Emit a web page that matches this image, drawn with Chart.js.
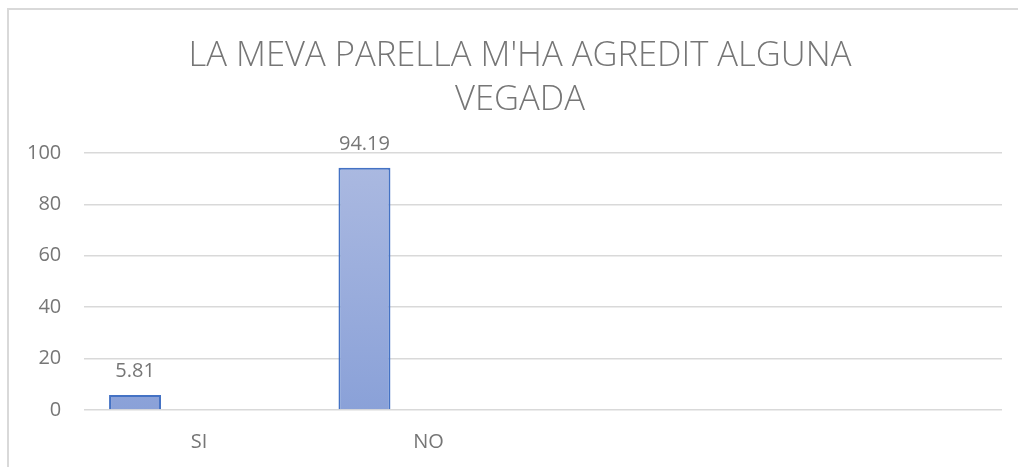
<!DOCTYPE html>
<html>
<head>
<meta charset="utf-8">
<script src="https://cdn.jsdelivr.net/npm/chart.js@4"></script>
<style>
  html, body { margin: 0; padding: 0; background: #fff; overflow: hidden; }
  #frame {
    position: absolute; left: 7px; top: 8px; width: 1040px; height: 480px;
    border-left: 2px solid #d9d9d9; border-top: 2px solid #d9d9d9;
  }
  #wrap { position: absolute; left: 0; top: 0; width: 1040px; height: 467px; }
</style>
</head>
<body>
<div id="frame"></div>
<div id="wrap"><canvas id="myChart"></canvas></div>
<script>
// values (percent)
const categories = ['SI', 'NO', '', ''];
const percentages = [5.81, 94.19];
const yTicks = [0, 20, 40, 60, 80, 100];
const titleLines = ["LA MEVA PARELLA M'HA AGREDIT ALGUNA", 'VEGADA'];

const textGrey = '#767676';
const font = 'Open Sans';

// bar value labels, drawn above each bar
const valueLabels = {
    id: 'valueLabels',
    afterDatasetsDraw(chart) {
        const c = chart.ctx;
        const meta = chart.getDatasetMeta(0);
        c.save();
        c.font = '20px "' + font + '"';
        c.fillStyle = textGrey;
        c.textAlign = 'center';
        c.textBaseline = 'middle';
        meta.data.forEach(function (bar, i) {
            const v = chart.data.datasets[0].data[i];
            if (v == null) return;
            c.fillText(v.toFixed(2), bar.x, bar.y - 24);
        });
        c.restore();
    }
};

function barFill(context) {
    const area = context.chart.chartArea;
    if (!area) return '#9aaedc';
    const g = context.chart.ctx.createLinearGradient(0, area.top, 0, area.bottom);
    g.addColorStop(0, '#acbae1');
    g.addColorStop(1, '#8aa1d8');
    return g;
}

const ctx = document.getElementById('myChart');
const myChart = new Chart(ctx, {
    type: 'bar',
    data: {
        labels: categories,
        datasets: [{
            label: 'Serie 1',
            data: percentages,
            backgroundColor: barFill,
            borderColor: '#4472c4',
            borderWidth: 2,
            categoryPercentage: 0.8366,
            barPercentage: 0.8125
        }, {
            label: 'Serie 2',
            data: [],
            categoryPercentage: 0.8366,
            barPercentage: 0.8125
        }, {
            label: 'Serie 3',
            data: [],
            categoryPercentage: 0.8366,
            barPercentage: 0.8125
        }]
    },
    options: {
        responsive: true,
        maintainAspectRatio: false,
        animation: false,
        layout: { padding: { left: 4, right: 4, top: 0, bottom: 13 } },
        plugins: {
            legend: { display: false },
            tooltip: { enabled: false },
            title: {
                display: true,
                text: titleLines,
                color: textGrey,
                font: { family: font, size: 34.6, weight: '300', lineHeight: 1.27 },
                padding: { top: 34, bottom: 31 }
            }
        },
        scales: {
            x: {
                grid: { display: false, drawTicks: true, tickLength: 20 },
                border: { display: false },
                ticks: {
                    color: textGrey,
                    font: { family: font, size: 20 },
                    padding: 0,
                    maxRotation: 0
                }
            },
            y: {
                min: 0,
                max: 100,
                afterBuildTicks(axis) {
                    axis.ticks = yTicks.map(function (v) { return { value: v }; });
                },
                grid: { color: '#d9d9d9', lineWidth: 1.5, drawTicks: false },
                border: { display: false },
                ticks: {
                    color: textGrey,
                    font: { family: font, size: 20 },
                    padding: 23
                }
            },
            // empty space on the right so the title sits centred like the original
            yRight: {
                position: 'right',
                min: 0,
                max: 100,
                grid: { display: false, drawTicks: false },
                border: { display: false },
                ticks: { display: false },
                afterFit(axis) { axis.width = 34; }
            }
        }
    },
    plugins: [valueLabels]
});
</script>
</body>
</html>
